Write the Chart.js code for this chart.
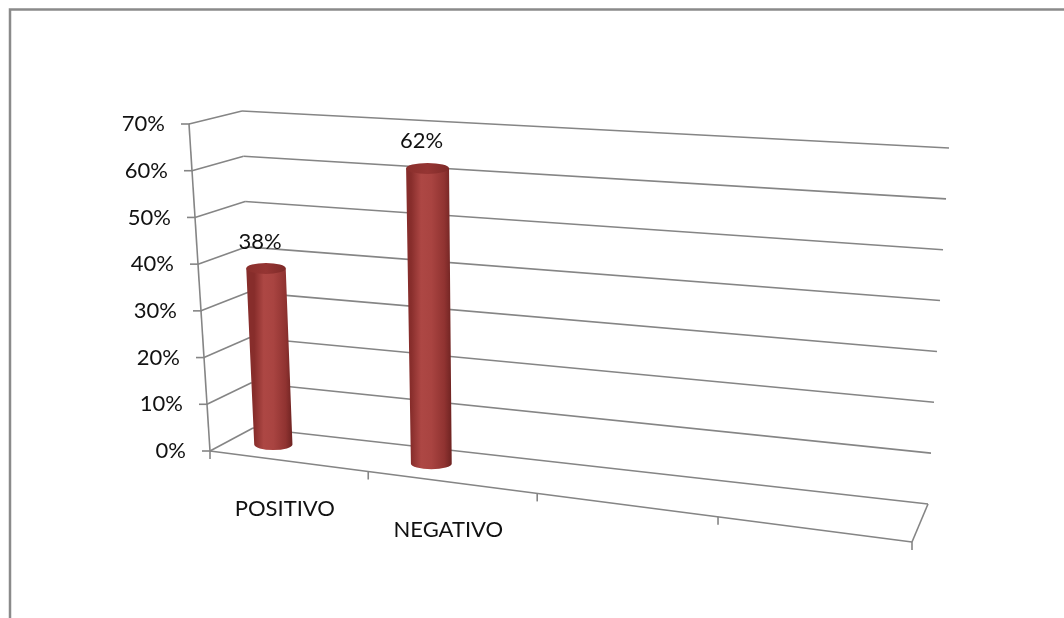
<!DOCTYPE html>
<html>
<head>
<meta charset="utf-8">
<script src="https://cdn.jsdelivr.net/npm/chart.js@4"></script>
<style>
  html, body { margin: 0; padding: 0; background: #fff; }
  #wrap { position: relative; width: 1064px; height: 618px; }
</style>
</head>
<body>
<div id="wrap"><canvas id="chart" width="1064" height="618"></canvas></div>
<script>
const categories = ["POSITIVO", "NEGATIVO", "", ""];
const percentages = [38, 62, null, null];
const yTicks = [0, 10, 20, 30, 40, 50, 60, 70];

// screen corners of the 3D box: F/B = front/back, L/R, 0 = floor, 1 = top (70%)
const box = {
  FL0: [210, 451], FR0: [912, 542], BL0: [253, 428], BR0: [928, 504],
  FL1: [189, 124], FR1: [940, 175], BL1: [242, 111], BR1: [949, 148]
};
const warp = -0.127;      // perspective squeeze along the category axis
const barShift = -0.056;  // cylinders sit a bit left of the category centre
const barDepth = 0.5;
const capRy = 5.5;
const gridColor = "#858585";
const textFont = "22px Lato";

function lerp(a, b, t) {
  return [a[0] + (b[0] - a[0]) * t, a[1] + (b[1] - a[1]) * t];
}

function project(u, v, d) {
  const f = u * (1 + warp) / (1 + warp * u);
  const front = lerp(lerp(box.FL0, box.FR0, f), lerp(box.FL1, box.FR1, f), v);
  const back = lerp(lerp(box.BL0, box.BR0, f), lerp(box.BL1, box.BR1, f), v);
  return lerp(front, back, d);
}

function helpers(chart) {
  const area = chart.chartArea;
  return {
    uOf: px => (px - area.left) / (area.right - area.left),
    vOf: py => (area.bottom - py) / (area.bottom - area.top)
  };
}

const box3d = {
  id: "box3d",
  beforeDatasetsDraw(chart) {
    const { ctx, scales: { x, y } } = chart;
    const { uOf, vOf } = helpers(chart);
    const line = (a, b) => {
      ctx.beginPath();
      ctx.moveTo(a[0], a[1]);
      ctx.lineTo(b[0], b[1]);
      ctx.stroke();
    };
    ctx.save();

    // outer frame
    ctx.strokeStyle = "#8a8a8a";
    ctx.lineWidth = 2.5;
    ctx.beginPath();
    ctx.moveTo(10, 618);
    ctx.lineTo(10, 9.5);
    ctx.lineTo(1064, 9.5);
    ctx.stroke();

    ctx.strokeStyle = gridColor;
    ctx.lineWidth = 1.6;
    ctx.font = textFont;
    ctx.fillStyle = "#111";
    ctx.textAlign = "right";
    ctx.textBaseline = "middle";
    yTicks.forEach(t => {
      const v = vOf(y.getPixelForValue(t));
      const p = project(0, v, 0);
      line(p, project(0, v, 1));
      line(project(0, v, 1), project(1, v, 1));
      line([p[0] - 8, p[1]], [p[0] + 1, p[1]]);
      ctx.fillText(t + "%", p[0] - 24, p[1]);
    });

    line(project(0, 0, 0), project(0, 1, 0));
    line(project(0, 0, 0), project(1, 0, 0));
    line(project(1, 0, 0), project(1, 0, 1));

    for (let i = 0; i <= categories.length; i++) {
      const p = project(uOf(x.getPixelForValue(i - 0.5)), 0, 0);
      line(p, [p[0], p[1] + 8]);
    }

    ctx.textAlign = "center";
    categories.forEach((c, i) => {
      if (!c) return;
      const p = project(uOf(x.getPixelForValue(i)), 0, 0);
      ctx.fillText(c, p[0] - 3, p[1] + 48);
    });
    ctx.restore();
  },
  afterDatasetsDraw(chart) {
    const { ctx, chartArea: area } = chart;
    const { uOf, vOf } = helpers(chart);
    const meta = chart.getDatasetMeta(0);
    ctx.save();
    meta.data.forEach((bar, i) => {
      if (percentages[i] == null) return;
      const u = uOf(bar.x) + barShift;
      const h = bar.width / 2 / (area.right - area.left);
      const vTop = vOf(bar.y), vBase = vOf(bar.base);
      const T = project(u, vTop, barDepth), B = project(u, vBase, barDepth);
      const rT = (project(u + h, vTop, barDepth)[0] - project(u - h, vTop, barDepth)[0]) / 2;
      const rB = (project(u + h, vBase, barDepth)[0] - project(u - h, vBase, barDepth)[0]) / 2;

      const g = ctx.createLinearGradient(B[0] - rB, 0, B[0] + rB, 0);
      g.addColorStop(0, "#872d2b");
      g.addColorStop(0.25, "#ad4744");
      g.addColorStop(0.5, "#a94441");
      g.addColorStop(0.82, "#903331");
      g.addColorStop(1, "#6e2321");
      ctx.fillStyle = g;
      ctx.beginPath();
      ctx.moveTo(T[0] - rT, T[1]);
      ctx.lineTo(B[0] - rB, B[1]);
      ctx.ellipse(B[0], B[1], rB, capRy, 0, Math.PI, 0, true);
      ctx.lineTo(T[0] + rT, T[1]);
      ctx.closePath();
      ctx.fill();

      const cg = ctx.createLinearGradient(T[0] - rT, 0, T[0] + rT, 0);
      cg.addColorStop(0, "#8a2f2c");
      cg.addColorStop(0.5, "#953533");
      cg.addColorStop(1, "#7e2a28");
      ctx.fillStyle = cg;
      ctx.beginPath();
      ctx.ellipse(T[0], T[1], rT, capRy, 0, 0, Math.PI * 2);
      ctx.fill();

      ctx.font = textFont;
      ctx.fillStyle = "#111";
      ctx.textAlign = "center";
      ctx.textBaseline = "middle";
      ctx.fillText(percentages[i] + "%", T[0] - 6, T[1] - 27);
    });
    ctx.restore();
  }
};

new Chart(document.getElementById("chart").getContext("2d"), {
  type: "bar",
  data: {
    labels: categories,
    datasets: [{
      label: "Resultado",
      data: percentages,
      backgroundColor: "rgba(0,0,0,0)",
      borderWidth: 0,
      barPercentage: 0.25,
      categoryPercentage: 1
    }]
  },
  options: {
    responsive: false,
    animation: false,
    events: [],
    layout: { padding: 0 },
    plugins: { legend: { display: false }, tooltip: { enabled: false } },
    scales: {
      x: { display: false, offset: true },
      y: { display: false, min: 0, max: 70 }
    }
  },
  plugins: [box3d]
});
</script>
</body>
</html>
